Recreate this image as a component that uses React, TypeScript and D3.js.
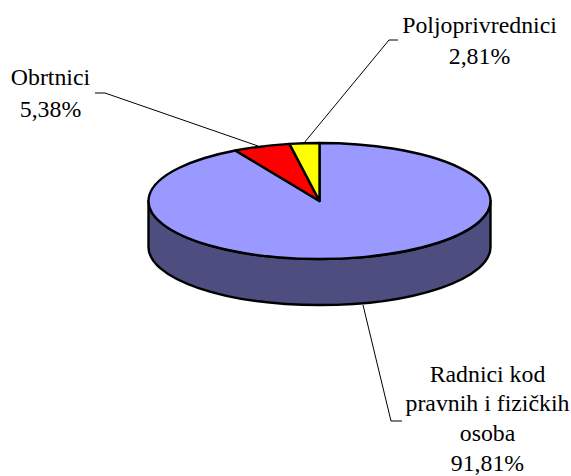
import React from "react";
import * as d3 from "d3";

const categories = ["Radnici kod pravnih i fizičkih osoba", "Obrtnici", "Poljoprivrednici"];
const values = [91.81, 5.38, 2.81];
const valueLabels = ["91,81%", "5,38%", "2,81%"];
const colors = ["#9999FF", "#FF0000", "#FFFF00"];
const sideColor = "#4D4D80";
const labelLines = [
  ["Radnici kod", "pravnih i fizičkih", "osoba", "91,81%"],
  ["Obrtnici", "5,38%"],
  ["Poljoprivrednici", "2,81%"],
];

const W = 571, H = 476;
const cx = 319.5, cy = 201, rx = 171, ry = 58, depth = 46;
const anchors = [
  { x: 487.5, y0: 381.5, dy: 29.8 },
  { x: 50.5, y0: 85, dy: 31.5 },
  { x: 479.5, y0: 33, dy: 31 },
];
const leaders: [number, number][][] = [
  [[363, 305], [391, 421], [402, 421]],
  [[258, 146], [105, 93], [95, 93]],
  [[304, 143], [389, 40], [398, 40]],
];

const pt = (a: number): [number, number] => [cx + rx * Math.sin(a), cy - ry * Math.cos(a)];

export default function App() {
  const arcs = d3.pie<number>().sort(null)(values);
  const slicePath = (s: number, e: number) => {
    const [x0, y0] = pt(s);
    const [x1, y1] = pt(e);
    const large = e - s > Math.PI ? 1 : 0;
    return `M${cx},${cy}L${x0},${y0}A${rx},${ry} 0 ${large} 1 ${x1},${y1}Z`;
  };
  const side = `M${cx - rx},${cy}L${cx - rx},${cy + depth}A${rx},${ry} 0 0 0 ${cx + rx},${cy + depth}L${cx + rx},${cy}A${rx},${ry} 0 0 1 ${cx - rx},${cy}Z`;
  const line = d3.line();
  return (
    <svg width={W} height={H} viewBox={`0 0 ${W} ${H}`} style={{ position: "absolute", left: 0, top: 0, background: "#fff" }}>
      {leaders.map((l, i) => (
        <path key={i} d={line(l) ?? ""} fill="none" stroke="#000" strokeWidth={1} />
      ))}
      <path d={side} fill={sideColor} stroke="#000" strokeWidth={2.4} strokeLinejoin="round" />
      {arcs.map((a, i) => (
        <path key={categories[i]} d={slicePath(a.startAngle, a.endAngle)} fill={colors[i]} stroke="#000" strokeWidth={2.4} strokeLinejoin="round" />
      ))}
      {labelLines.map((ls, i) => (
        <text key={valueLabels[i]} textAnchor="middle" fontFamily="'Liberation Serif', serif" fontSize={23.8} fill="#000">
          {ls.map((t, j) => (
            <tspan key={j} x={anchors[i].x} y={anchors[i].y0 + j * anchors[i].dy}>{t}</tspan>
          ))}
        </text>
      ))}
    </svg>
  );
}
